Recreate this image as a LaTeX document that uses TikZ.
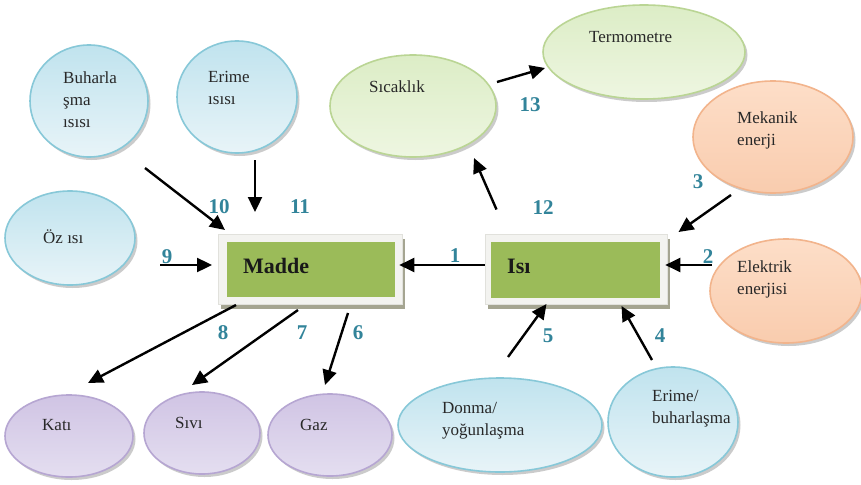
\documentclass[tikz,border=0pt]{standalone}
\usepackage{fontspec}
\setmainfont{Liberation Serif}
\usetikzlibrary{arrows.meta,shadows,calc,shapes.geometric}

\definecolor{blueTop}{RGB}{192,227,238}
\definecolor{blueBot}{RGB}{232,244,248}
\definecolor{blueLine}{RGB}{135,200,216}
\definecolor{greenTop}{RGB}{220,237,198}
\definecolor{greenBot}{RGB}{238,246,225}
\definecolor{greenLine}{RGB}{186,213,148}
\definecolor{orangeTop}{RGB}{253,222,200}
\definecolor{orangeBot}{RGB}{249,204,174}
\definecolor{orangeLine}{RGB}{242,180,140}
\definecolor{purpleTop}{RGB}{208,196,228}
\definecolor{purpleBot}{RGB}{228,222,240}
\definecolor{purpleLine}{RGB}{182,166,210}
\definecolor{frameFill}{RGB}{243,243,240}
\definecolor{frameLine}{RGB}{225,225,220}
\definecolor{shadowGray}{RGB}{165,165,145}
\definecolor{coreGreen}{RGB}{155,187,89}
\definecolor{numTeal}{RGB}{50,132,154}
\definecolor{textGray}{RGB}{40,40,40}

\tikzset{
  bubble/.style={ellipse, line width=1.6pt, inner sep=0pt,
    drop shadow={shadow xshift=2.5pt, shadow yshift=-3pt, fill=black!40, opacity=0.5}},
  bluebub/.style={bubble, draw=blueLine, top color=blueTop, bottom color=blueBot},
  greenbub/.style={bubble, draw=greenLine, top color=greenTop, bottom color=greenBot},
  orangebub/.style={bubble, draw=orangeLine, top color=orangeTop, bottom color=orangeBot},
  purplebub/.style={bubble, draw=purpleLine, top color=purpleTop, bottom color=purpleBot},
  frame/.style={rectangle, inner sep=0pt, fill=frameFill, draw=frameLine, line width=0.6pt,
    drop shadow={shadow xshift=3pt, shadow yshift=-4pt, fill=shadowGray, opacity=1}},
  core/.style={rectangle, inner sep=0pt, fill=coreGreen},
  arr/.style={line width=2.4pt, draw=black, -{Triangle[length=15pt,width=14pt]}},
  num/.style={font=\fontsize{21}{21}\selectfont\bfseries, text=numTeal, inner sep=0pt},
  lbl/.style={font=\fontsize{17}{22}\selectfont, text=textGray, align=left,
    anchor=north west, inner sep=0pt},
  boxlbl/.style={font=\fontsize{22}{22}\selectfont\bfseries, text=black!90,
    anchor=west, inner sep=0pt},
}

\begin{document}
\begin{tikzpicture}[x=1pt, y=-1pt]
  \useasboundingbox[fill=white] (0,0) rectangle (861,484);

  % ---- bubbles ----
  \node[bluebub, minimum width=118pt, minimum height=112pt] (buh) at (89,101) {};
  \node[bluebub, minimum width=120pt, minimum height=112pt] (eri) at (237,97) {};
  \node[bluebub, minimum width=130pt, minimum height=94pt]  (oz)  at (70,238) {};
  \node[greenbub, minimum width=166pt, minimum height=102pt] (sic) at (413,106) {};
  \node[greenbub, minimum width=202pt, minimum height=94pt]  (ter) at (644,52) {};
  \node[orangebub, minimum width=160pt, minimum height=112pt] (mek) at (773,137) {};
  \node[orangebub, minimum width=152pt, minimum height=104pt] (elek) at (786,291) {};
  \node[bluebub, minimum width=204pt, minimum height=94pt]  (don) at (500,425) {};
  \node[bluebub, minimum width=130pt, minimum height=110pt] (erb) at (673,422) {};
  \node[purplebub, minimum width=128pt, minimum height=82pt] (kat) at (69,436) {};
  \node[purplebub, minimum width=116pt, minimum height=82pt] (siv) at (202,433) {};
  \node[purplebub, minimum width=124pt, minimum height=82pt] (gaz) at (330,435) {};

  % ---- bubble texts ----
  \node[lbl] (buhT) at (63,72) {Buharla\\şma\\ısısı};
  \node[lbl] (eriT) at (208,71) {Erime\\ısısı};
  \node[lbl, anchor=base west] (ozT) at (43,243) {Öz ısı};
  \node[lbl, anchor=base west] (sicT) at (369,93) {Sıcaklık};
  \node[lbl, anchor=base west] (terT) at (589,43) {Termometre};
  \node[lbl] (mekT) at (737,112) {Mekanik\\enerji};
  \node[lbl] (elekT) at (737,261) {Elektrik\\enerjisi};
  \node[lbl] (donT) at (442,402) {Donma/\\yoğunlaşma};
  \node[lbl] (erbT) at (652,390) {Erime/\\buharlaşma};
  \node[lbl, anchor=base west] (katT) at (42,430) {Katı};
  \node[lbl, anchor=base west] (sivT) at (175,428) {Sıvı};
  \node[lbl, anchor=base west] (gazT) at (300,430) {Gaz};

  % ---- central boxes ----
  \node[frame, minimum width=184pt, minimum height=70pt] (maddeF) at (310,269.5) {};
  \node[core, minimum width=168pt, minimum height=55pt] (madde) at (311,269.5) {};
  \node[boxlbl] (maddeT) at (243,266) {Madde};
  \node[frame, minimum width=182pt, minimum height=70pt] (isiF) at (576,269.5) {};
  \node[core, minimum width=169pt, minimum height=56pt] (isi) at (575.5,270) {};
  \node[boxlbl] (isiT) at (507,266) {Isı};

  % ---- connectors ----
  \draw[arr] ($(isiF.west)+(0,-4.5)$) -- ($(maddeF.east)+(-3,-4.5)$);
  \draw[arr] ($(elek.center)+(-74,-26)$) -- ($(isiF.east)+(-2,-4.5)$);
  \draw[arr] ($(mek.center)+(-42,58)$) -- ($(isiF.center)+(102.5,-37.5)$);
  \draw[arr] ($(erb.center)+(-21,-62)$) -- ($(isiF.center)+(45.5,36.5)$);
  \draw[arr] ($(don.center)+(8,-68)$) -- ($(isiF.center)+(-29.5,34.5)$);
  \draw[arr] ($(isiF.center)+(-79.5,-60)$) -- ($(sic.center)+(61,52)$);
  \draw[arr] ($(sic.center)+(84,-24)$) -- ($(ter.center)+(-99,16)$);
  \draw[arr] ($(eri.center)+(18,63)$) -- ($(maddeF.center)+(-55,-57.5)$);
  \draw[arr] ($(buh.center)+(56,67)$) -- ($(maddeF.center)+(-85,-39.5)$);
  \draw[arr] ($(oz.center)+(90,27)$) -- ($(maddeF.center)+(-98,-4.5)$);
  \draw[arr] ($(maddeF.center)+(-74,35.5)$) -- ($(kat.center)+(19,-53)$);
  \draw[arr] ($(maddeF.center)+(-12,40.5)$) -- ($(siv.center)+(-10,-48)$);
  \draw[arr] ($(maddeF.center)+(38,43.5)$) -- ($(gaz.center)+(-5,-50)$);

  % ---- connector numbers ----
  \node[num] (n1) at (455,256) {1};
  \node[num] (n2) at (708,257) {2};
  \node[num] (n3) at (698,182) {3};
  \node[num] (n4) at (660,336) {4};
  \node[num] (n5) at (548,336) {5};
  \node[num] (n6) at (358,333) {6};
  \node[num] (n7) at (302,333) {7};
  \node[num] (n8) at (223,333) {8};
  \node[num] (n9) at (167,257) {9};
  \node[num] (n10) at (219,207) {10};
  \node[num] (n11) at (300,207) {11};
  \node[num] (n12) at (543,208) {12};
  \node[num] (n13) at (530,105) {13};
\end{tikzpicture}
\end{document}
